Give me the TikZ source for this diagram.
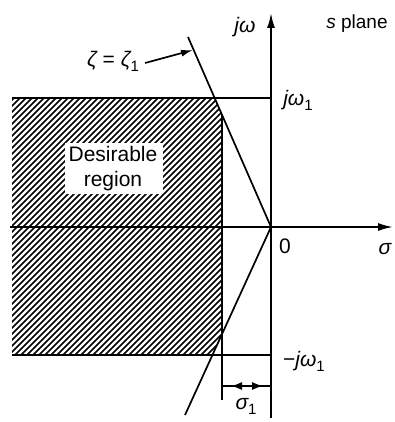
\documentclass[tikz,border=0pt]{standalone}
\usepackage{fontspec}
\setmainfont{Liberation Sans}
\usetikzlibrary{arrows.meta}
\newcommand\lo[1]{\raisebox{-0.45ex}{\fontsize{15}{15}\selectfont #1}}
\tikzset{
  ln/.style={line width=1.7pt},
  axis/.style={line width=1.8pt,-{Latex[length=15pt,width=8pt]}},
  hatch/.style={line width=1.7pt},
  lbl/.style={inner sep=0pt,font=\fontsize{21}{25}\selectfont},
  dim/.style={line width=1.4pt},
}
\begin{document}
\begin{tikzpicture}[x=1pt,y=-1pt]
\useasboundingbox (0,0) rectangle (395,422);
% key points
\coordinate (O) at (271,227);
\coordinate (ytop) at (271,13);
\coordinate (ybot) at (271,418);
\coordinate (xl) at (10,227);
\coordinate (xr) at (393,227);
\coordinate (w1l) at (12,98);
\coordinate (w1r) at (271,98);
\coordinate (mw1l) at (12,355);
\coordinate (mw1r) at (271,355);
\coordinate (zt) at (188,37);
\coordinate (zb) at (185,415);
\coordinate (s1t) at (222,114);
\coordinate (s1b) at (222,400);
\coordinate (d1) at (222,386);
\coordinate (d2) at (271,386);
% hatched region
\begin{scope}
\clip (12,98) -- (215,98) -- (222,114) -- (222,334) -- (212.5,355) -- (12,355) -- cycle;
\foreach \c in {100,106,...,600} {
  \draw[hatch] (\c-450,450) -- (\c,0);
}
\end{scope}
% white label box
\fill[white] (65,143) rectangle (163,194);
\node[lbl,align=center] (des) at (113,169) {Desirable\\region};
% lines
\draw[ln] (w1l) -- (w1r);
\draw[ln] (mw1l) -- (mw1r);
\draw[ln] (zt) -- (O) -- (zb);
\draw[dim] (s1t) -- (s1b);
\draw[axis] (xl) -- (xr);
\draw[axis] (ybot) -- (ytop);
% sigma1 dimension
\draw[dim] (d1) -- (d2);
\draw[dim,{Latex[length=11pt,width=8pt]}-{Latex[length=11pt,width=8pt]},shorten <=9pt,shorten >=8pt] (d1) -- (d2);
% labels
\node[lbl] (jw) at (245,27) {\itshape jω};
\node[lbl,font=\fontsize{19}{22}\selectfont] (sp) at (357,24) {\itshape s\upshape\ plane};
\node[lbl] (jw1) at (298,100) {\itshape jω\upshape\lo{1}};
\node[lbl] (mjw1) at (304,361) {−\itshape jω\upshape\lo{1}};
\node[lbl] (zero) at (285,246) {0};
\node[lbl] (sig) at (385,249) {\itshape σ};
\node[lbl] (sig1) at (246,406) {\itshape σ\upshape\lo{1}};
\node[lbl] (zeta) at (113,61) {\itshape ζ \upshape= \itshape ζ\upshape\lo{1}};
\coordinate (zarr) at (193,50);
\draw[ln,-{Latex[length=12pt,width=7pt]}] (zeta.east) ++(6pt,-2pt) coordinate (zs) -- (zarr);
\end{tikzpicture}
\end{document}
